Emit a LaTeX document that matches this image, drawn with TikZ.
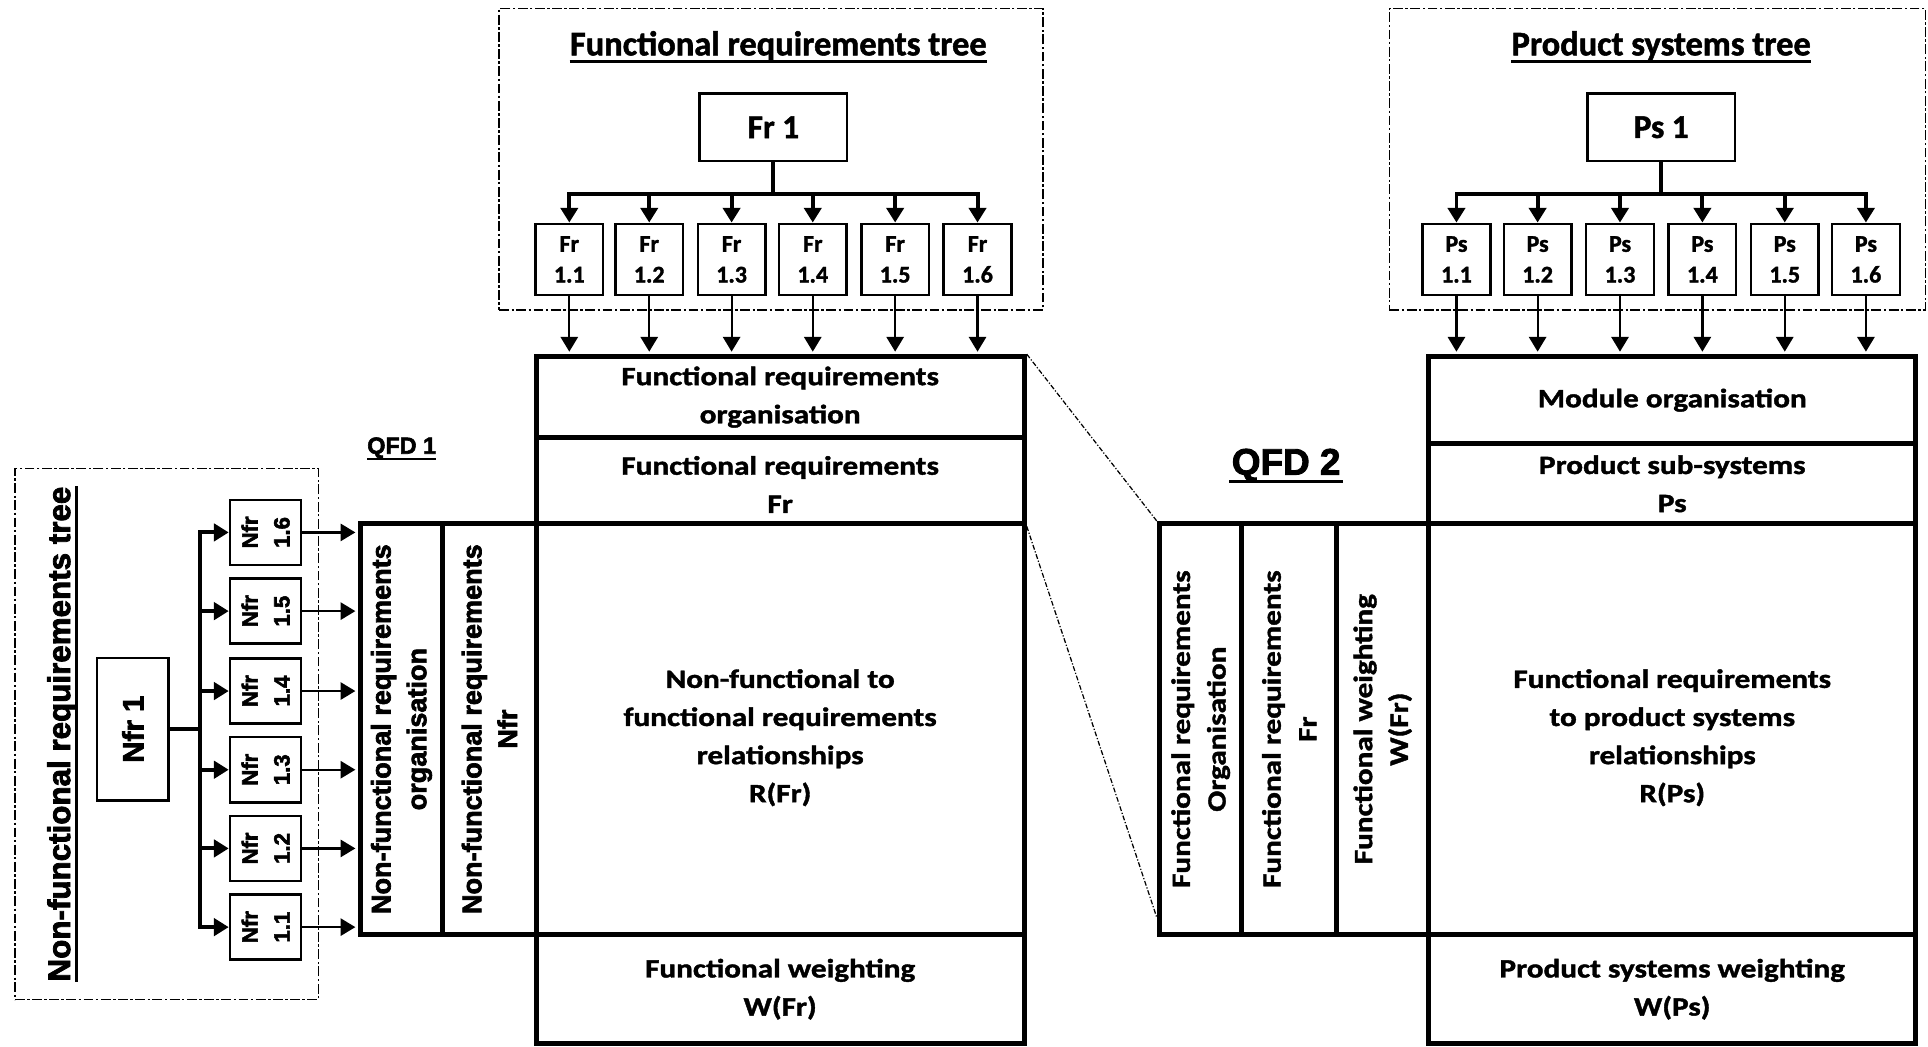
\documentclass[tikz,border=0pt]{standalone}
\usepackage{fontspec}
\setmainfont{Carlito}
\newfontfamily\calb{Carlito Bold}[FakeBold=1.5]
\newfontfamily\widecal{Carlito Bold}[FakeStretch=1.18, FakeBold=1.5]
\newfontfamily\arialb{Liberation Sans Bold}[FakeBold=2.5]
\usetikzlibrary{arrows.meta,calc}

\begin{document}
\begin{tikzpicture}[x=1pt,y=-1pt,
  heavy/.style={draw, line width=4pt, inner sep=0pt},
  celltext/.style={inner sep=0pt, font=\widecal\fontsize{21.5}{31}\selectfont, align=center},
  cell/.style={heavy, celltext},
  vcell/.style={heavy, rotate=90, font=\widecal\fontsize{21.5}{29}\selectfont, align=center},
  ncell/.style={heavy, rotate=90, font=\arialb\fontsize{22}{29}\selectfont, align=center},
  leaf/.style={draw, line width=2pt, minimum width=55pt, minimum height=58pt, inner sep=0pt, align=center, font=\calb\fontsize{19.5}{25}\selectfont},
  nleaf/.style={draw, line width=2pt, rotate=90, minimum width=53pt, minimum height=58pt, inner sep=0pt, align=center, font=\arialb\fontsize{18}{26}\selectfont},
  root/.style={draw, line width=2pt, minimum width=120pt, minimum height=55pt, inner sep=0pt, font=\calb\fontsize{27}{32}\selectfont},
  nroot/.style={draw, line width=2pt, rotate=90, minimum width=116pt, minimum height=58pt, inner sep=0pt, font=\arialb\fontsize{24}{30}\selectfont},
  frame/.style={draw, line width=1.3pt, dash pattern=on 8pt off 2pt on 2pt off 2pt, inner sep=0pt},
  title/.style={inner sep=0pt, anchor=base, font=\calb\fontsize{28}{34}\selectfont},
  ntitle/.style={inner sep=0pt, anchor=base, rotate=90, font=\arialb\fontsize{25.5}{30}\selectfont},
  qlabel/.style={inner sep=0pt, anchor=base},
  uline/.style={line width=2.4pt},
  busarrow/.style={line width=3.2pt, -{Triangle[length=12pt,width=14pt]}},
  arrow/.style={line width=1.8pt, -{Triangle[length=12pt,width=14pt]}},
  zoomline/.style={line width=1pt, dash pattern=on 4pt off 1.5pt on 1pt off 1.5pt},
]
\useasboundingbox (0,0) rectangle (1568,851);

% ---------- functional requirements tree ----------
\node[frame, minimum width=442pt, minimum height=245pt] (frbox) at (627,129.5) {};
\node[title] (frtitle) at (633,45) {Functional requirements tree};
\draw[uline] ([yshift=-5pt]frtitle.base west) -- ([yshift=-5pt]frtitle.base east);
\node[root] (fr1) at (629,103.5) {Fr 1};
\foreach \i/\x in {1/463,2/528,3/595,4/661,5/728,6/795}
  \node[leaf] (fra\i) at (\x,211) {Fr\\1.\i};

% ---------- QFD 1 ----------
\node[cell, minimum width=397pt, minimum height=66pt] (qorg) at (634.5,323) {Functional requirements\\organisation};
\node[heavy, minimum width=397pt, minimum height=70pt] (qfr) at (634.5,391) {};
\node[celltext] (qfrtext) at (634.5,394) {Functional requirements\\Fr};
\node[heavy, minimum width=397pt, minimum height=334pt] (qrel) at (634.5,593) {};
\node[celltext] (qreltext) at (634.5,600) {Non-functional to\\functional requirements\\relationships\\R(Fr)};
\node[cell, minimum width=397pt, minimum height=89pt] (qw) at (634.5,804.5) {Functional weighting\\W(Fr)};
\node[ncell, minimum width=334pt, minimum height=67pt] (qnorg) at (326.5,593) {Non-functional requirements\\organisation};
\node[ncell, minimum width=334pt, minimum height=76pt] (qnfr) at (398,593) {Non-functional requirements\\Nfr};
\node[qlabel, font=\arialb\fontsize{19}{23}\selectfont] (qfd1) at (326.7,369) {QFD 1};
\draw[line width=2pt] ([yshift=-4.5pt]qfd1.base west) -- ([yshift=-4.5pt]qfd1.base east);

\foreach \i in {1,...,6} {
  \draw[busarrow] (fr1.south) -- ++(0,26) -| (fra\i.north);
  \draw[arrow, shorten >=2pt] (fra\i.south) -- (fra\i.south |- qorg.north);
}

% ---------- non-functional requirements tree ----------
\node[frame, minimum width=247pt, minimum height=432pt] (nfrbox) at (135.5,597) {};
\node[ntitle] (nfrtitle) at (57,597) {Non-functional requirements tree};
\draw[uline] ([xshift=5pt]nfrtitle.base west) -- ([xshift=5pt]nfrtitle.base east);
\node[nroot] (nfr1) at (108,593) {Nfr 1};
\foreach \i/\y in {1/754,2/690,3/626,4/562,5/497,6/433}
  \node[nleaf] (nfa\i) at (216,\y) {Nfr\\1.\i};
\foreach \i in {1,...,6} {
  \draw[busarrow] (nfr1.south) -- ++(25,0) |- (nfa\i.north);
  \draw[arrow, shorten >=2pt] (nfa\i.south) -- (nfa\i.south -| qnorg.north);
}

% ---------- QFD 2 ----------
\node[cell, minimum width=396pt, minimum height=71pt] (morg) at (1360,325.5) {Module organisation};
\node[cell, minimum width=396pt, minimum height=65pt] (mps) at (1360,393.5) {Product sub-systems\\Ps};
\node[heavy, minimum width=396pt, minimum height=334pt] (mrel) at (1360,593) {};
\node[celltext] (mreltext) at (1360,600) {Functional requirements\\to product systems\\relationships\\R(Ps)};
\node[cell, minimum width=396pt, minimum height=89pt] (mw) at (1360,804.5) {Product systems weighting\\W(Ps)};
\node[vcell, minimum width=334pt, minimum height=67pt] (cfo) at (976.5,593) {Functional requirements\\Organisation};
\node[vcell, minimum width=334pt, minimum height=77pt] (cfr) at (1048.5,593) {Functional requirements\\Fr};
\node[vcell, minimum width=334pt, minimum height=75pt] (cfw) at (1124.5,593) {Functional weighting\\W(Fr)};
\node[qlabel, font=\arialb\fontsize{30}{36}\selectfont] (qfd2) at (1046,386) {QFD 2};
\draw[line width=2.7pt] ([yshift=-5.5pt,xshift=-2pt]qfd2.base west) -- ([yshift=-5.5pt,xshift=2pt]qfd2.base east);

% links from QFD 1 into QFD 2
\draw[zoomline] (qorg.north east) -- (cfo.north east);
\draw[zoomline] (qfr.south east) -- ($(cfo.north east)!0.955!(cfo.north west)$);

% ---------- product systems tree ----------
\node[frame, minimum width=436pt, minimum height=245pt] (psbox) at (1348,129.5) {};
\node[title] (pstitle) at (1351,45) {Product systems tree};
\draw[uline] ([yshift=-5pt]pstitle.base west) -- ([yshift=-5pt]pstitle.base east);
\node[root] (ps1) at (1351,103.5) {Ps 1};
\foreach \i/\x in {1/1184.5,2/1250.5,3/1317.5,4/1384.5,5/1451.5,6/1517.5}
  \node[leaf] (psa\i) at (\x,211) {Ps\\1.\i};
\foreach \i in {1,...,6} {
  \draw[busarrow] (ps1.south) -- ++(0,26) -| (psa\i.north);
  \draw[arrow, shorten >=2pt] (psa\i.south) -- (psa\i.south |- morg.north);
}
\end{tikzpicture}
\end{document}
